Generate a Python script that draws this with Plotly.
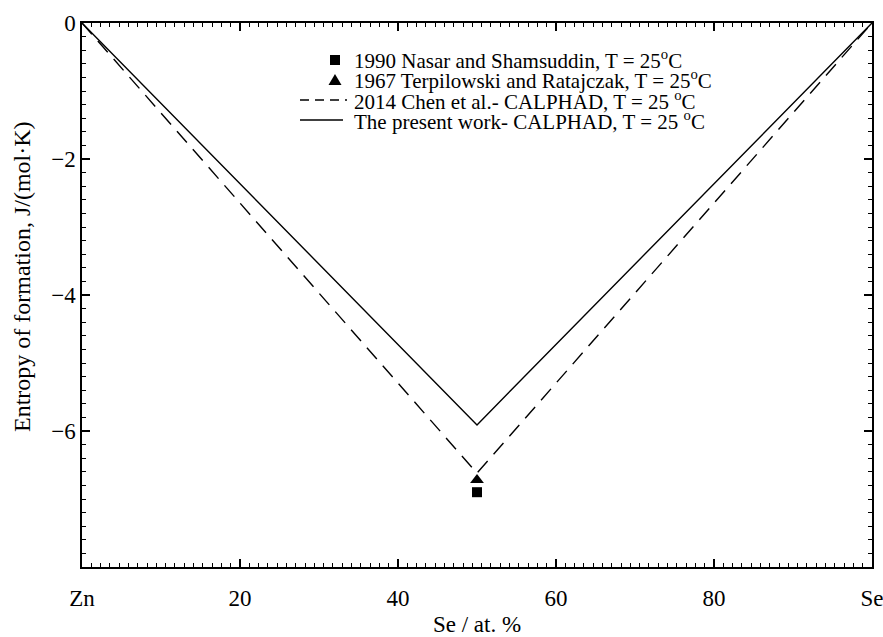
import plotly.graph_objects as go

# Composition axis (Se, at. %) and entropy of formation, J/(mol·K)
se_pct = [0, 50, 100]
present_work = [0, -5.91, 0]
chen_2014 = [0, -6.62, 0]

nasar_1990_x = [50]
nasar_1990_y = [-6.90]
terpilowski_1967_x = [50]
terpilowski_1967_y = [-6.72]

x_label_alias = {0: "Zn", 100: "Se"}
y_label_alias = {"−8": " "}

legend_labels = [
    "1990 Nasar and Shamsuddin, T = 25<sup>o</sup>C",
    "1967 Terpilowski and Ratajczak, T = 25<sup>o</sup>C",
    "2014 Chen et al.- CALPHAD, T = 25 <sup>o</sup>C",
    "The present work- CALPHAD, T = 25 <sup>o</sup>C",
]
y_title = "Entropy of formation, J/(mol·K)"
x_title = "Se / at. %"

FONT = "Times New Roman, Liberation Serif, DejaVu Serif, serif"
W, H = 883, 637
L, R, T, B = 82, 11, 23, 70

fig = go.Figure()
fig.add_trace(go.Scatter(x=se_pct, y=chen_2014, mode="lines",
                         line=dict(color="black", width=1.4, dash="15px,9px"),
                         name="2014 Chen et al.- CALPHAD"))
fig.add_trace(go.Scatter(x=se_pct, y=present_work, mode="lines",
                         line=dict(color="black", width=1.4),
                         name="The present work- CALPHAD"))
fig.add_trace(go.Scatter(x=terpilowski_1967_x, y=terpilowski_1967_y, mode="markers",
                         marker=dict(symbol="triangle-up", size=12, color="black"),
                         name="1967 Terpilowski and Ratajczak"))
fig.add_trace(go.Scatter(x=nasar_1990_x, y=nasar_1990_y, mode="markers",
                         marker=dict(symbol="square", size=10, color="black"),
                         name="1990 Nasar and Shamsuddin"))

# Hand-placed key, positioned in pixels and converted to paper coordinates
pw, ph = W - L - R, H - T - B


def px(x):
    return (x - L) / pw


def py(y):
    return (H - B - y) / ph


row_y = [60, 80, 100, 120]
text_x = 352
sym_x = 335
shapes = []
s = 5
shapes.append(dict(type="rect", xref="paper", yref="paper",
                   x0=px(sym_x - s), x1=px(sym_x + s), y0=py(row_y[0] + s), y1=py(row_y[0] - s),
                   fillcolor="black", line=dict(width=0)))
ty = row_y[1]
path = "M {:.5f},{:.5f} L {:.5f},{:.5f} L {:.5f},{:.5f} Z".format(
    px(sym_x - 6.5), py(ty + 5), px(sym_x + 6.5), py(ty + 5), px(sym_x), py(ty - 6))
shapes.append(dict(type="path", xref="paper", yref="paper", path=path,
                   fillcolor="black", line=dict(width=0)))
shapes.append(dict(type="line", xref="paper", yref="paper",
                   x0=px(300), x1=px(347), y0=py(row_y[2]), y1=py(row_y[2]),
                   line=dict(color="black", width=1.4, dash="9px,6px")))
shapes.append(dict(type="line", xref="paper", yref="paper",
                   x0=px(300), x1=px(343), y0=py(row_y[3]), y1=py(row_y[3]),
                   line=dict(color="black", width=1.4)))

annotations = []
for yy, lab in zip(row_y, legend_labels):
    annotations.append(dict(text=lab, xref="paper", yref="paper", x=px(text_x), y=py(yy),
                            xanchor="left", yanchor="middle", showarrow=False,
                            font=dict(family=FONT, size=21, color="black")))

# vertical axis title, set as rotated text left of the tick labels
annotations.append(dict(text=y_title, xref="paper", yref="paper", x=px(22), y=py(277),
                        xanchor="center", yanchor="middle", textangle=-90, showarrow=False,
                        font=dict(family=FONT, size=24, color="black")))

axis_common = dict(
    showline=True, linecolor="black", linewidth=1.5, mirror="allticks",
    ticks="inside", ticklen=8, tickwidth=1.5, tickcolor="#000000",
    showgrid=False, zeroline=False, automargin=False,
    ticklabeloverflow="allow",
    tickfont=dict(family=FONT, size=23, color="black"),
)

fig.update_layout(
    width=W, height=H,
    margin=dict(l=L, r=R, t=T, b=B),
    paper_bgcolor="white", plot_bgcolor="white",
    font=dict(family=FONT, color="black"),
    showlegend=False,
    shapes=shapes, annotations=annotations,
    xaxis=dict(
        range=[0, 100], tickmode="linear", tick0=0, dtick=20,
        labelalias=x_label_alias,
        ticklabelstandoff=10,
        minor=dict(ticks="inside", ticklen=4, tickwidth=1, tickcolor="#000000",
                   dtick=20 / 17),
        title=dict(text=x_title, font=dict(family=FONT, size=23, color="black"), standoff=6),
        **axis_common,
    ),
    yaxis=dict(
        range=[-8, 0], tickmode="linear", tick0=0, dtick=2,
        labelalias=y_label_alias,
        minor=dict(ticks="inside", ticklen=4, tickwidth=1, tickcolor="#000000",
                   dtick=0.2),
        **axis_common,
    ),
)

fig.write_html("out.html")
